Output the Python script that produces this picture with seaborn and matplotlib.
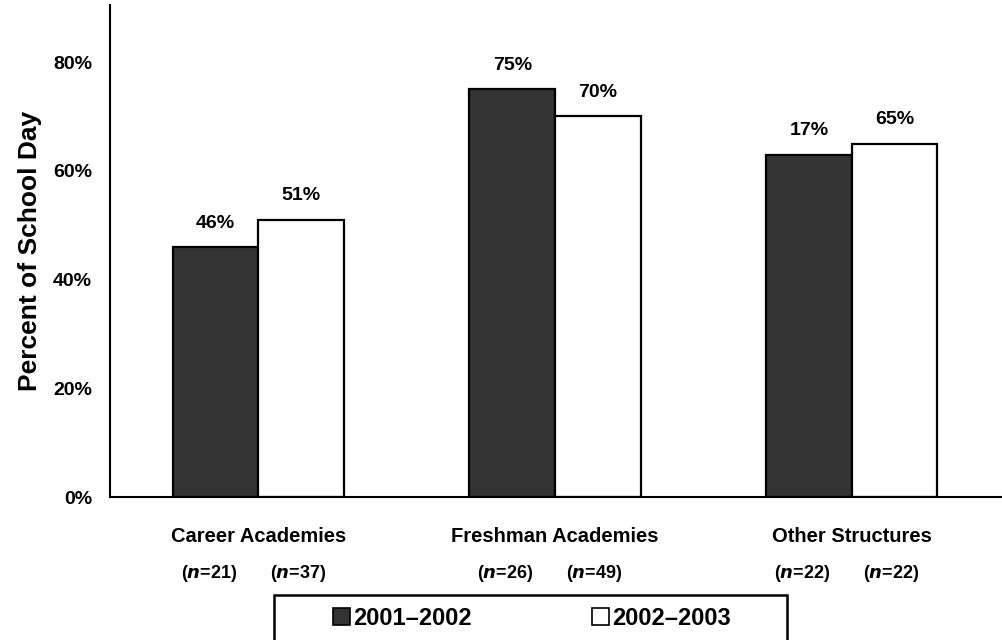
import pandas as pd
import matplotlib
matplotlib.use("Agg")
import matplotlib.pyplot as plt
from matplotlib.patches import Patch, Rectangle
import seaborn as sns

# data
categories = ["Career Academies", "Freshman Academies", "Other Structures"]
years = ["2001\u20132002", "2002\u20132003"]
share_2001 = [46, 75, 63]
share_2002 = [51, 70, 65]
labels_2001 = ["46%", "75%", "17%"]
labels_2002 = ["51%", "70%", "65%"]
n_2001 = [21, 26, 22]
n_2002 = [37, 49, 22]
colors = ["#333333", "#ffffff"]

df = pd.DataFrame({
    "Structure": categories * 2,
    "Year": [years[0]] * 3 + [years[1]] * 3,
    "Percent": share_2001 + share_2002,
})

sns.set_style("white")
plt.rcParams["font.family"] = ["Liberation Sans", "DejaVu Sans"]
plt.rcParams["font.weight"] = "bold"
plt.rcParams["text.color"] = "black"
plt.rcParams["axes.labelcolor"] = "black"
plt.rcParams["xtick.color"] = "black"
plt.rcParams["ytick.color"] = "black"

W, H = 1002, 640
fig = plt.figure(figsize=(W / 100, H / 100), dpi=100)
ax = fig.add_axes([110 / W, 1 - 497 / H, 892 / W, 492 / H])

sns.barplot(
    data=df, x="Structure", y="Percent", hue="Year", order=categories,
    hue_order=years, palette=colors, width=0.577, edgecolor="black",
    linewidth=1.6, saturation=1, ax=ax, legend=False,
)

for container, lab in zip(ax.containers, [labels_2001, labels_2002]):
    ax.bar_label(container, labels=lab, padding=11, fontsize=14, fontweight="bold")

ax.set_ylim(0, 90.5)
ax.set_xlim(-0.5, 2.5 + 2 / 298)
ax.set_yticks([0, 20, 40, 60, 80])
ax.set_yticklabels([f"{v}%" for v in [0, 20, 40, 60, 80]], fontsize=14, fontweight="bold")
ax.tick_params(axis="y", length=0, pad=13)
ax.set_xticks([-0.5, 0.5, 1.5, 2.5])
ax.set_xticklabels([])
ax.tick_params(axis="x", length=11, width=1.5, direction="out", color="black")
ax.set_xlabel("")
ax.set_ylabel("Percent of School Day", fontsize=19, fontweight="bold", labelpad=8)

sns.despine(ax=ax, top=True, right=True)
for side in ["left", "bottom"]:
    ax.spines[side].set_linewidth(1.5)
    ax.spines[side].set_color("black")

# category names and sample sizes under the axis
trans = ax.get_xaxis_transform()
for i, name in enumerate(categories):
    ax.text(i, -0.08, name, transform=trans, ha="center", va="center",
            fontsize=14.5, fontweight="bold")
    for off, n in [(-0.167, n_2001[i]), (0.133, n_2002[i])]:
        ax.text(i + off, -0.155, f"($\\mathbfit{{n}}$={n})",
                transform=trans, ha="center", va="center", fontsize=13,
                fontweight="bold")

# legend box, cut off by the bottom edge as in the original
fig.patches.append(Rectangle((274 / W, -0.05), 513 / W, 0.05 + 1 - 595 / H,
                             transform=fig.transFigure, facecolor="none",
                             edgecolor="black", linewidth=1.8))
handles = [Patch(facecolor=c, edgecolor="black", linewidth=1.2) for c in colors]
leg = fig.legend(
    handles, years, loc="upper left",
    bbox_to_anchor=(333 / W, 1 - 607 / H), ncol=2, frameon=False,
    fontsize=17, handlelength=0.72, handleheight=0.72, handletextpad=0.13,
    columnspacing=5.1, borderpad=0, borderaxespad=0,
)
for t in leg.get_texts():
    t.set_fontweight("bold")

fig.savefig("out.png", dpi=100)
